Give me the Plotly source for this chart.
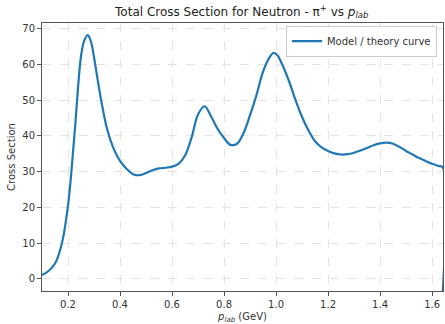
import plotly.graph_objects as go

p_lab = [0.100, 0.125, 0.150, 0.175, 0.200, 0.225, 0.250, 0.263, 0.276, 0.289, 0.300, 0.325,
         0.350, 0.375, 0.400, 0.425, 0.450, 0.475, 0.500, 0.525, 0.550, 0.575, 0.600, 0.625,
         0.650, 0.675, 0.700, 0.725, 0.750, 0.775, 0.800, 0.825, 0.850, 0.875, 0.900, 0.925,
         0.950, 0.975, 0.990, 1.005, 1.025, 1.050, 1.075, 1.100, 1.125, 1.150, 1.175, 1.200,
         1.225, 1.250, 1.275, 1.300, 1.325, 1.350, 1.375, 1.400, 1.425, 1.450, 1.475, 1.500,
         1.525, 1.550, 1.575, 1.600, 1.625, 1.641, 1.6412]
cross_section = [1.1, 2.2, 4.3, 9.5, 20.5, 40.5, 62.3, 66.8, 68.2, 66.2, 62.0, 51.0,
                 42.0, 36.5, 33.0, 30.8, 29.3, 29.0, 29.6, 30.4, 30.9, 31.1, 31.4, 32.2,
                 34.5, 39.5, 46.0, 48.3, 45.5, 42.0, 39.4, 37.5, 37.8, 40.8, 45.8, 51.5,
                 58.0, 62.0, 63.2, 62.6, 59.8, 55.3, 50.0, 45.3, 41.5, 38.5, 36.8, 35.8,
                 35.1, 34.8, 34.9, 35.3, 35.9, 36.6, 37.4, 37.9, 38.1, 37.8, 36.9, 35.8,
                 34.8, 33.8, 33.0, 32.2, 31.6, 31.2, -4.0]

x_ticks = [0.2, 0.4, 0.6, 0.8, 1.0, 1.2, 1.4, 1.6]
y_ticks = [0, 10, 20, 30, 40, 50, 60, 70]

font = "DejaVu Sans, Liberation Sans, sans-serif"

fig = go.Figure()
fig.add_trace(go.Scatter(
    x=p_lab, y=cross_section, mode="lines",
    name="Model / theory curve",
    line=dict(color="#1f77b4", width=2.2, shape="spline", smoothing=1.0),
))

axis_common = dict(
    showline=True, mirror=True, linecolor="#555555", linewidth=1,
    ticks="outside", ticklen=4, tickcolor="#555555", tickwidth=1,
    showgrid=True, gridcolor="#e3e3e3", griddash="dash", gridwidth=1,
    zeroline=False, tickfont=dict(family=font, size=10, color="#333333"),
)

fig.update_layout(
    width=445, height=324,
    margin=dict(l=42, r=2, t=23, b=33),
    paper_bgcolor="white", plot_bgcolor="white",
    title=dict(
        text="Total Cross Section for Neutron - π<sup>+</sup> vs <i>p</i><sub><i>lab</i></sub>",
        x=0.543, xanchor="center", y=0.965, yanchor="middle",
        font=dict(family=font, size=12, color="#222222"),
    ),
    xaxis=dict(axis_common, range=[0.1, 1.642], tickvals=x_ticks, tickformat=".1f",
               title=dict(text="<i>p</i><sub><i>lab</i></sub> (GeV)", standoff=3,
                          font=dict(family=font, size=10, color="#333333"))),
    yaxis=dict(axis_common, range=[-3.4, 71.6], tickvals=y_ticks,
               title=dict(text="Cross Section", standoff=4,
                          font=dict(family=font, size=10, color="#333333"))),
    showlegend=True,
    legend=dict(x=0.985, y=0.99, xanchor="right", yanchor="top",
                bgcolor="rgba(255,255,255,0.85)", bordercolor="#cccccc", borderwidth=1,
                font=dict(family=font, size=10, color="#333333")),
)

fig.write_html("out.html")
